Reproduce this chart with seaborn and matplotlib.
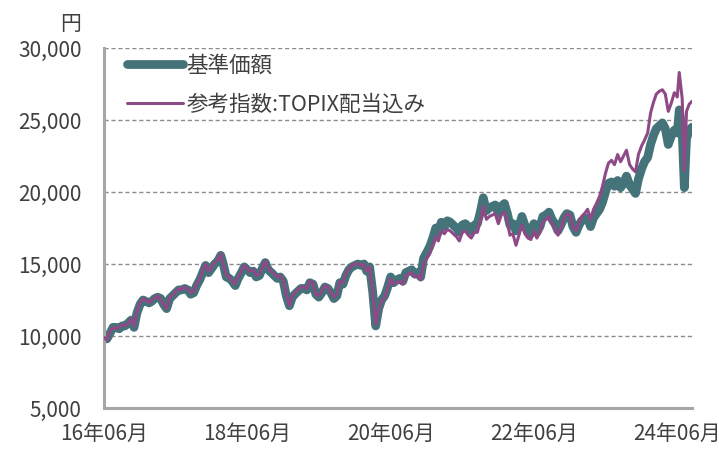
import matplotlib
matplotlib.use("Agg")
import matplotlib.pyplot as plt
import matplotlib.ticker as mticker
import pandas as pd
import seaborn as sns

# readings on the 15th and month end from 2016-06-30 to 2024-06-30, then a few points around the Aug-2024 drop
dates_main = list(pd.date_range("2016-06-30", "2024-06-30", freq="SM"))
dates_tail = list(pd.to_datetime(["2024-07-10", "2024-07-25", "2024-08-05", "2024-08-16", "2024-08-30", "2024-09-13"]))
dates = dates_main + dates_tail

nav = [
    9900, 9800, 10200, 10600, 10600, 10500, 10700, 10700, 10900, 11100, 10600, 11600, 12200, 12500,
    12400, 12300, 12400, 12600, 12700, 12600, 12200, 11900, 12600, 12800, 13000, 13200,
    13200, 13300, 13200, 12900, 13000, 13500, 13900, 14400, 14900, 14400, 14700, 15000,
    15200, 15600, 15000, 14100, 14000, 13800, 13500, 14000, 14400, 14800, 14600, 14400,
    14500, 14100, 14200, 14700, 15100, 14600, 14400, 14200, 14000, 14100, 13800, 12800,
    12100, 12700, 12900, 13100, 13300, 13300, 13200, 13700, 13600, 12900, 12700, 13000,
    13400, 13300, 13000, 12600, 12800, 13700, 13600, 14200, 14600, 14800, 14900, 15000,
    14900, 15000, 14500, 14800, 13000, 10700, 11900, 12500, 12800, 13400, 14100, 13700,
    13900, 14000, 13800, 14400, 14500, 14600, 14300, 14400, 14100, 15400, 15800, 16200,
    16800, 17500, 17200, 17900, 17600, 18000, 17900, 17700, 17500, 17200, 17700, 17800,
    17600, 17300, 17700, 17800, 18600, 19600, 18700, 18900, 19000, 19100, 18500, 19000,
    19200, 18500, 17700, 17800, 17300, 17600, 18300, 17700, 17300, 17100, 17800, 17200,
    17600, 18300, 18400, 18600, 18100, 17800, 17300, 17700, 18200, 18500, 18400, 17600,
    17200, 17700, 18000, 18100, 18200, 17600, 18200, 18500, 18800, 19300, 20000, 20600,
    20700, 20400, 20800, 20300, 20600, 21100, 20500, 20200, 19900, 20900, 21600, 22100,
    22400, 23300, 23900, 24400, 24600, 24800, 24400, 23300, 23900, 24300, 24100,
    25700, 24200, 20300, 23700, 24300, 24500,
]

topix = [
    9900, 9700, 10300, 10600, 10500, 10600, 10800, 10700, 10900, 11200, 10700, 11700, 12300, 12600,
    12500, 12300, 12500, 12600, 12800, 12500, 12200, 11900, 12700, 12800, 13100, 13300,
    13200, 13400, 13300, 13000, 13100, 13600, 14000, 14500, 15000, 14500, 14800, 15100,
    15300, 15700, 15000, 14200, 14100, 13800, 13600, 14100, 14500, 14900, 14700, 14500,
    14600, 14200, 14300, 14800, 15200, 14700, 14500, 14300, 14100, 14200, 13900, 12900,
    12100, 12800, 13000, 13200, 13400, 13400, 13300, 13800, 13700, 12900, 12800, 13100,
    13500, 13400, 13000, 12700, 12900, 13800, 13700, 14300, 14700, 14900, 15000, 15000,
    14900, 15000, 14500, 14800, 12900, 10800, 11800, 12400, 12700, 13300, 14000, 13600,
    13700, 13800, 13600, 14200, 14300, 14400, 14100, 14200, 13900, 15000, 15400, 15700,
    16300, 16900, 16600, 17300, 17100, 17400, 17300, 17100, 16900, 16600, 17200, 17300,
    17000, 16800, 17200, 17200, 18000, 19000, 18100, 18300, 18400, 18500, 17800, 18400,
    18600, 17900, 17000, 17100, 16300, 17000, 17700, 17100, 16800, 16700, 17300, 16800,
    17200, 17900, 18100, 18300, 17800, 17500, 17000, 17500, 18100, 18500, 18400, 17600,
    17300, 17900, 18300, 18500, 18800, 18100, 18800, 19200, 19700, 20400, 21300, 22000,
    22200, 21900, 22600, 22100, 22500, 22900, 21900, 21600, 21400, 22600, 23200, 23600,
    24100, 25500, 26200, 26800, 27000, 27100, 26800, 25600, 26200, 26900, 26600,
    28300, 26500, 21500, 25600, 26100, 26300,
]

tick_dates = pd.to_datetime(["2016-06-30", "2018-06-30", "2020-06-30", "2022-06-30", "2024-06-30"])
y_ticks = [5000, 10000, 15000, 20000, 25000, 30000]

teal = "#44737a"
purple = "#8e4a87"
grey = "#a6a6a6"
txt = "#404040"

sns.set_theme(style="white")
plt.rcParams["font.family"] = ["Noto Sans CJK JP", "DejaVu Sans"]

fig = plt.figure(figsize=(7.19, 4.5), dpi=100)
ax = fig.add_axes([104 / 719, 42 / 450, 588 / 719, 360 / 450])

sns.lineplot(x=dates, y=nav, ax=ax, color=teal, linewidth=6.3,
             solid_capstyle="round", label="基準価額", zorder=2)
sns.lineplot(x=dates, y=topix, ax=ax, color=purple, linewidth=2.2,
             label="参考指数:TOPIX配当込み", zorder=3)

ax.set_ylim(5000, 30000)
ax.set_xlim(dates[0], dates[-1])
ax.set_yticks(y_ticks)
ax.yaxis.set_major_formatter(mticker.FuncFormatter(lambda v, p: f"{int(v):,}"))
ax.set_xticks(tick_dates)
ax.set_xticklabels([f"{d:%y}年{d:%m}月" for d in tick_dates])

for v in y_ticks[1:]:
    ax.axhline(v, color="#8c8c8c", linewidth=1, linestyle=(0, (3, 2)), zorder=1)

for s in ["top", "right"]:
    ax.spines[s].set_visible(False)
for s in ["left", "bottom"]:
    ax.spines[s].set_color(grey)
    ax.spines[s].set_linewidth(2.2)

ax.tick_params(axis="both", direction="in", length=5, width=1.8, color=grey,
               labelsize=15, labelcolor=txt)
ax.tick_params(axis="y", pad=16)
ax.tick_params(axis="x", pad=11)
ax.set_xlabel("")
ax.set_ylabel("")

fig.text(81 / 719, 1 - 24 / 450, "円", ha="right", va="center", fontsize=15, color=txt)

leg = ax.legend(loc="upper left", bbox_to_anchor=(0.025, 1.005), frameon=False,
                fontsize=15.5, handlelength=2.6, handletextpad=0.15, labelspacing=0.8,
                borderaxespad=0)
for t in leg.get_texts():
    t.set_color(txt)

fig.savefig("out.png", dpi=100)
